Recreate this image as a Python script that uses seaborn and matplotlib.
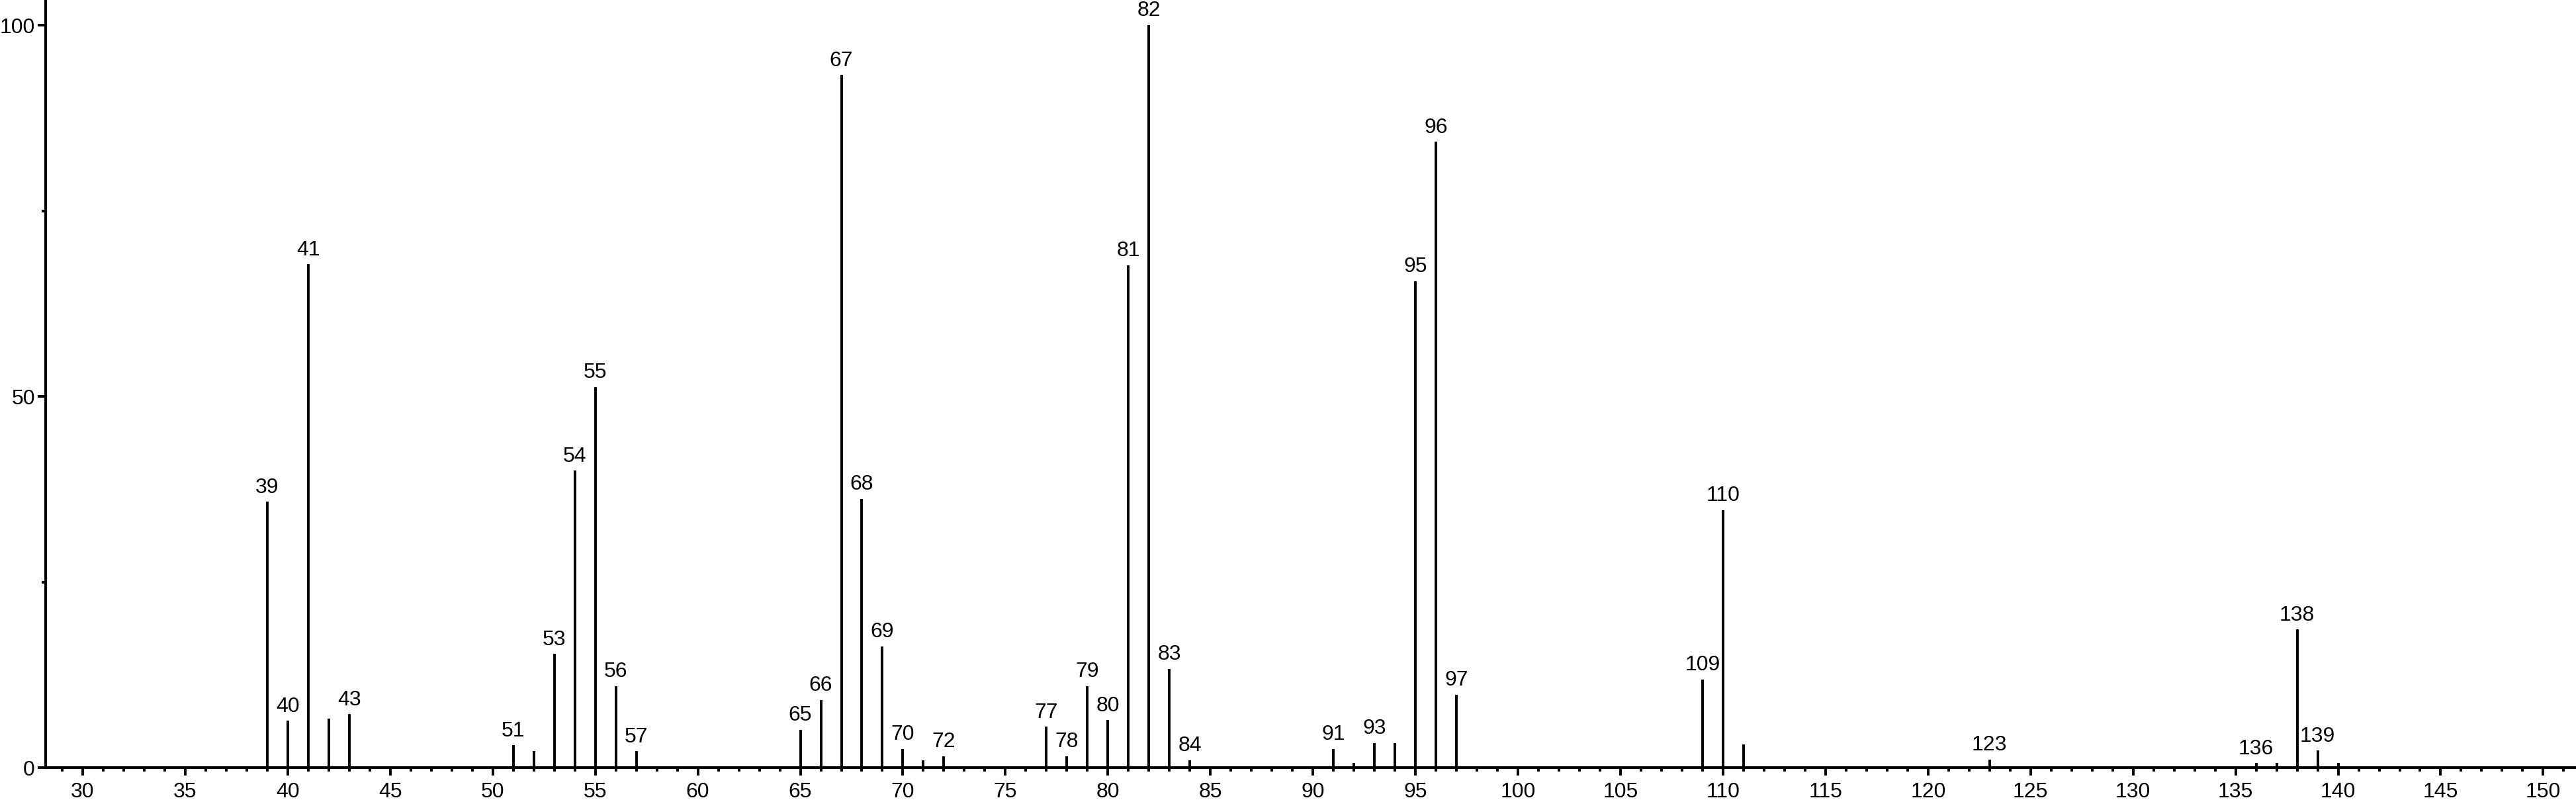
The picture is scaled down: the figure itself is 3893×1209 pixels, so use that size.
import matplotlib

matplotlib.use("Agg")
import matplotlib.pyplot as plt
from matplotlib.ticker import MultipleLocator
import seaborn as sns

sns.set_style("ticks")
plt.rcParams["font.family"] = ["Liberation Sans", "DejaVu Sans"]

# m/z and relative intensity
MZ = [39, 40, 41, 42, 43, 51, 52, 53, 54, 55, 56, 57,
      65, 66, 67, 68, 69, 70, 71, 72, 77, 78, 79, 80, 81, 82, 83, 84,
      91, 92, 93, 94, 95, 96, 97, 109, 110, 111, 123, 136, 137, 138, 139, 140]
INTENSITY = [35.8, 6.3, 67.8, 6.6, 7.2, 3.0, 2.2, 15.3, 40.0, 51.3, 11.0, 2.2,
             5.1, 9.1, 93.3, 36.2, 16.3, 2.5, 1.0, 1.5, 5.5, 1.5, 11.0, 6.4, 67.7, 100.0, 13.3, 1.0,
             2.5, 0.6, 3.3, 3.3, 65.5, 84.3, 9.8, 11.9, 34.7, 3.1, 1.1, 0.6, 0.6, 18.6, 2.3, 0.6]
LABELLED = [39, 40, 41, 43, 51, 53, 54, 55, 56, 57, 65, 66, 67, 68, 69, 70, 72,
            77, 78, 79, 80, 81, 82, 83, 84, 91, 93, 95, 96, 97, 109, 110, 123,
            136, 138, 139]


def main():
    fig = plt.figure(figsize=(38.93, 12.09), dpi=100)
    ax = fig.add_axes([0.0177, 0.0405, 0.9823, 0.9595])

    ax.vlines(MZ, 0, INTENSITY, color="black", linewidth=2.8)
    for mz, val in zip(MZ, INTENSITY):
        if mz in LABELLED:
            ax.text(mz, val + 0.6, str(mz), ha="center", va="bottom",
                    fontsize=23, color="black")

    ax.set_xlim(28.19, 151.6)
    ax.set_ylim(0, 103.4)

    ax.xaxis.set_major_locator(MultipleLocator(5))
    ax.xaxis.set_minor_locator(MultipleLocator(1))
    ax.yaxis.set_major_locator(MultipleLocator(50))
    ax.yaxis.set_minor_locator(MultipleLocator(25))

    ax.tick_params(axis="both", which="major", labelsize=23, width=2.8,
                   length=8.5, color="black", labelcolor="black")
    ax.tick_params(axis="both", which="minor", width=2.8, length=4.5, color="black")
    ax.tick_params(axis="x", which="major", pad=7)
    ax.tick_params(axis="y", which="major", pad=3)

    sns.despine(ax=ax)
    for side in ("left", "bottom"):
        ax.spines[side].set_linewidth(3)
        ax.spines[side].set_color("black")

    fig.savefig("out.png", dpi=100)
    plt.close(fig)


if __name__ == "__main__":
    main()
